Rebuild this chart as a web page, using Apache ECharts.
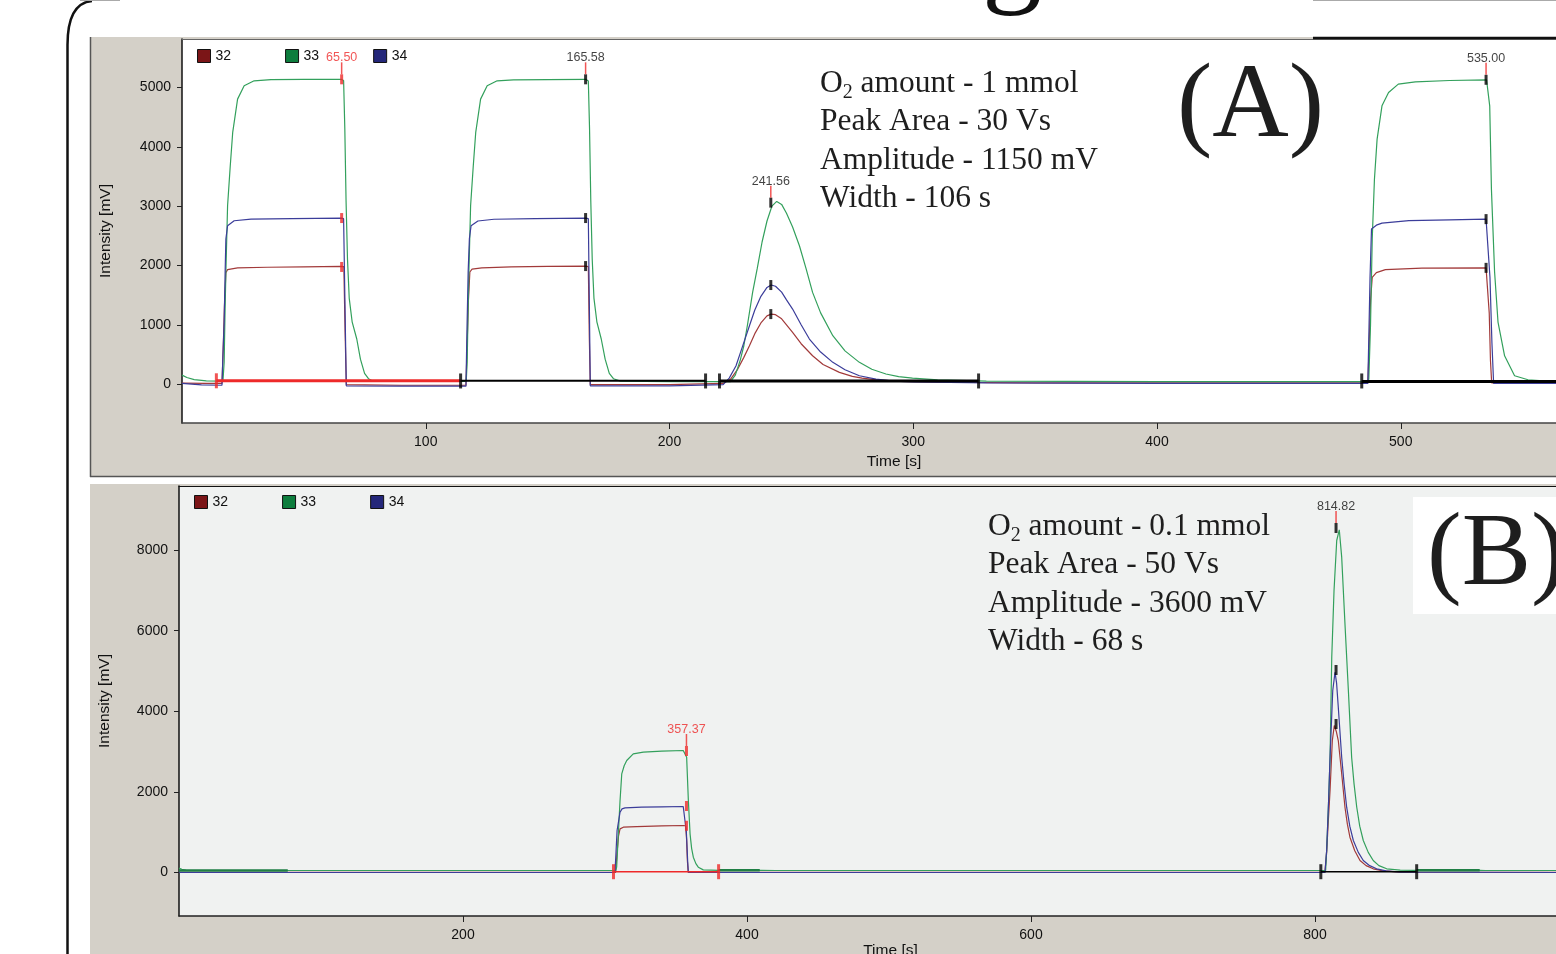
<!DOCTYPE html>
<html><head><meta charset="utf-8">
<script src="https://cdn.jsdelivr.net/npm/echarts@6/dist/echarts.min.js"></script>
<style>html,body{margin:0;padding:0;background:#fff;overflow:hidden}#c{width:1556px;height:954px}</style>
</head><body><div id="c"></div>
<script>
// ---------------- DATA ----------------
const seriesNames = ['32', '33', '34'];
const xTicksA = [100, 200, 300, 400, 500];
const yTicksA = [0, 1000, 2000, 3000, 4000, 5000];
const xTicksB = [200, 400, 600, 800];
const yTicksB = [0, 2000, 4000, 6000, 8000];

// Panel A (1 mmol) traces  [time s, intensity mV]
const a32 = [[0,15],[10,12],[16.4,10],[16.9,600],[17.4,1300],[18,1880],[18.7,1930],[22.8,1960],[35,1970],[50,1978],[65.3,1985],[66.4,1980],[66.9,900],[67.4,-10],[90,-20],[116.5,-20],[117,700],[117.5,1400],[118.1,1890],[119,1940],[123,1960],[135,1975],[150,1985],[165.5,1990],[166.7,1980],[167.1,800],[167.5,-10],[200,-10],[222,10],[225,80],[228,253],[230.5,450],[232.8,646],[235,850],[237.5,1030],[240,1150],[241.7,1180],[243.5,1170],[246,1100],[248,1000],[250.5,872],[254,680],[258.7,477],[263,330],[269.7,197],[275,130],[279,101],[285,70],[295,45],[310,30],[350,20],[486.5,20],[487,600],[487.6,1400],[488.3,1800],[490,1880],[493.7,1930],[508.7,1956],[535,1960],[535.8,1955],[536.3,1200],[536.8,400],[537.3,20],[566,20]];
const a33 = [[0,150],[2,110],[5,75],[10,55],[16.8,50],[17.3,371],[17.6,1100],[18,1884],[18.7,3007],[19.8,3681],[20.8,4244],[22.8,4806],[25.5,5030],[29.6,5115],[36.5,5135],[50,5138],[65.3,5140],[66.3,5120],[66.8,4300],[67.3,3100],[67.9,2100],[68.6,1450],[69.8,1050],[71.7,760],[73.2,420],[74.9,180],[76.5,90],[78,55],[90,45],[116.6,45],[117,371],[117.3,1100],[117.7,1884],[118.4,3007],[119.5,3681],[120.5,4244],[122.5,4806],[125.2,5030],[129.3,5115],[136,5130],[150,5135],[165.6,5140],[166.7,5110],[167.2,4300],[167.7,3100],[168.3,2100],[169,1450],[170.2,1050],[172,760],[173.6,420],[175.3,180],[177,90],[179.9,50],[200,40],[225,40],[227,150],[229,400],[230.5,646],[232,1000],[234.1,1546],[236,1950],[238,2400],[240,2750],[242,3000],[244,3081],[246,3030],[248,2880],[250.5,2650],[253.3,2332],[256,1950],[258.7,1546],[262,1200],[267,815],[272,560],[277.9,366],[283,250],[288.8,169],[294,125],[299.7,101],[310,70],[330,50],[400,40],[486.5,40],[486.9,84],[487.6,1000],[488.3,2445],[489.2,3450],[490.3,4131],[492.3,4693],[495,4918],[499,5059],[506,5098],[520,5120],[535.2,5132],[536,5110],[536.5,4693],[537.2,3288],[538.5,1889],[539.9,1046],[542.6,477],[546.7,140],[552.2,72],[560,50],[566,48]];
const a34 = [[0,10],[8,-15],[16.4,-20],[16.8,500],[17.3,1045],[17.7,1900],[18,2445],[18.7,2670],[21.4,2754],[28.3,2782],[45,2790],[65.3,2800],[66.3,2790],[66.8,1500],[67.4,-30],[90,-35],[116.5,-35],[116.9,900],[117.4,1900],[117.9,2450],[118.6,2670],[121.4,2750],[128,2780],[145,2790],[165.6,2800],[166.7,2790],[167.1,1400],[167.5,-30],[200,-30],[222,-10],[224.5,100],[227.3,309],[230,640],[232.8,983],[235,1250],[237.5,1480],[240,1630],[241.7,1670],[243.5,1650],[246,1550],[248,1420],[250.5,1265],[254,1000],[257.4,759],[262,540],[267,366],[272,240],[277.9,140],[284.7,84],[292,50],[300,35],[330,20],[400,10],[486.5,10],[486.9,800],[487.4,1800],[488,2614],[490,2680],[492.3,2715],[503.3,2755],[520,2770],[535,2782],[535.8,2760],[536.6,1800],[537.4,700],[538.1,10],[566,10]];

// Panel B (0.1 mmol) traces
const b32 = [[0,5],[307.5,5],[308.5,500],[309.5,900],[310.6,1082],[312.9,1124],[322.3,1141],[340,1155],[355.1,1166],[356.8,1160],[357.5,800],[358,300],[358.6,5],[807,5],[808.2,500],[809.4,1300],[810.6,2035],[812.2,3275],[813.6,3648],[815,3500],[816.4,3275],[818.8,2449],[821.1,1620],[822.8,1200],[824.6,876],[828,540],[831.7,298],[836,170],[841,92],[848,40],[860,10],[975,5]];
const b33 = [[0,110],[1,150],[2,80],[5,55],[100,50],[307.5,50],[308.2,132],[309.4,960],[310.6,1787],[311.8,2449],[313.5,2650],[315.3,2779],[319.9,2945],[327,2986],[340,3010],[355.1,3027],[356.5,3000],[357.5,2861],[358.7,1787],[359.9,960],[361,600],[362.2,380],[364,220],[365.7,132],[369.2,66],[380,55],[410,55],[420,50],[807.5,50],[808.2,546],[809.5,1700],[810.6,2861],[811.8,5343],[813.4,6998],[815.3,8238],[817.1,8504],[818.8,7824],[821.1,6171],[823.5,4516],[825.8,2861],[827.5,2200],[829.4,1620],[831.5,1150],[834,794],[837.5,500],[841,298],[845,170],[850.5,92],[860,60],[870,55],[916,55],[920,50],[975,50]];
const b34 = [[0,0],[307,0],[307.7,464],[308.5,1042],[310.6,1496],[312,1580],[314.1,1605],[325.8,1620],[340,1630],[355.1,1638],[356.5,1630],[357.3,1000],[358.2,300],[358.7,0],[807,0],[808.2,546],[809.5,1700],[810.6,2861],[812.5,4516],[814.1,4970],[815.2,4700],[816.4,4102],[818.8,2861],[820.5,2200],[822.3,1620],[824.5,1150],[827,794],[830.5,500],[834,298],[838.5,170],[843.4,92],[850,40],[860,10],[975,0]];

// integration baselines / boundaries
const aBaseRed = [[14.1,55],[114.3,55]];
const aBaseBlackThin = [[114.3,55],[214.8,55]];
const aBaseBlackThick = [[220.5,50],[326.8,50],[326.8,'-'],[484.0,45],[566,45]];
const aBoundRed = [14.1];
const aBoundBlack = [114.3, 214.8, 220.5, 326.8, 484.0];
const bBaseRed = [[306.0,20],[380.0,20]];
const bBaseBlack = [[804.1,20],[871.6,20]];
const bBaseGreen = [[0,50],[76.6,50],[76.6,'-'],[380,55],[409,55],[409,'-'],[871.6,55],[916,55]];
const bBoundRed = [306.0, 380.0];
const bBoundBlack = [804.1, 871.6];

// detected peaks
const peakTimesA = [65.50, 165.58, 241.56, 535.00];
const peakA32 = [1975, 1990, 1180, 1960];
const peakA33 = [5140, 5140, 3060, 5132];
const peakA34 = [2800, 2800, 1670, 2782];
const peakTimesB = [357.37, 814.82];
const peakB32 = [1160, 3685];
const peakB33 = [3015, 8548];
const peakB34 = [1650, 5025];
const selPeakA = 0, selPeakB = 0;

// ---------------- STYLE ----------------
const SANS = "'Liberation Sans', Arial, sans-serif";
const NARROW = "'Liberation Sans Narrow', 'Liberation Sans', Arial, sans-serif";
const SERIF = "'Liberation Serif', 'Times New Roman', serif";
const lineCol = {'32':'#a23a3a','33':'#33a05c','34':'#3b3d9a'};
const legCol = {'32':'#7b1517','33':'#0d7d3d','34':'#24277a'};
const RED = '#ee2a2a';

function trace(name, data, gi) {
  return {type:'line', name, data, xAxisIndex:gi, yAxisIndex:gi, showSymbol:false, symbol:'none',
    lineStyle:{color:lineCol[name], width:1.2}, itemStyle:{color:lineCol[name]}, animation:false, silent:true, z:2};
}
function base(data, gi, color, width) {
  return {type:'line', data, xAxisIndex:gi, yAxisIndex:gi, showSymbol:false, symbol:'none',
    lineStyle:{color, width}, animation:false, silent:true, z:3};
}
function bounds(ts, y, gi, color) {
  return {type:'scatter', data:ts.map(t=>[t,y]), xAxisIndex:gi, yAxisIndex:gi, symbol:'rect', symbolSize:[3,15],
    itemStyle:{color}, animation:false, silent:true, z:4};
}
function peakTicks(times, vals, sel, gi) {
  const d = [];
  times.forEach((t,i)=>vals.forEach(v=>d.push({value:[t,v[i]], itemStyle:{color: i===sel?RED:'#000'}})));
  return {type:'scatter', data:d, xAxisIndex:gi, yAxisIndex:gi, symbol:'rect', symbolSize:[3,10], animation:false, silent:true, z:5};
}
function peakLabels(times, tops, sel, gi) {
  return {type:'scatter', xAxisIndex:gi, yAxisIndex:gi, symbol:'rect', symbolSize:[1.5,12], symbolOffset:[0,-11],
    itemStyle:{color:RED}, animation:false, silent:true, z:5,
    data: times.map((t,i)=>({value:[t,tops[i]], label:{show:true, position:'top', distance:-2, formatter:t.toFixed(2),
      color: i===sel?RED:'#111', fontSize:12.5, fontFamily:SANS}}))};
}
function legend(left, top) {
  return {left, top, orient:'horizontal', icon:'rect', itemWidth:13, itemHeight:13, itemGap:54, selectedMode:false,
    textStyle:{fontSize:14, color:'#111', fontFamily:SANS},
    data: seriesNames.map(n=>({name:n, itemStyle:{color:legCol[n], borderColor:'#111', borderWidth:1}}))};
}
const plain = v => String(v);
function xAx(gi, max, ticks, font, margin, gap, pad, lineColor) {
  return {gridIndex:gi, type:'value', min:0, max, splitLine:{show:false},
    axisLine:{show:true, onZero:false, lineStyle:{color:lineColor, width:1.5}},
    axisTick:{show:true, customValues:ticks, length:6, lineStyle:{color:'#222', width:1}},
    axisLabel:{customValues:ticks, formatter:plain, fontSize:14, color:'#111', fontFamily:font, margin},
    name:'Time [s]', nameLocation:'middle', nameGap:gap,
    nameTextStyle:{fontSize:15.5, color:'#111', fontFamily:font, padding:[0,0,0,pad]}};
}
function topAx(gi, max, lineColor) {
  return {gridIndex:gi, type:'value', position:'top', min:0, max, splitLine:{show:false},
    axisLine:{show:true, onZero:false, lineStyle:{color:lineColor, width:1.2}},
    axisTick:{show:false}, axisLabel:{show:false}};
}
function yAx(gi, min, max, ticks, gap) {
  return {gridIndex:gi, type:'value', min, max, splitLine:{show:false},
    axisLine:{show:true, onZero:false, lineStyle:{color:'#111', width:1.5}},
    axisTick:{show:true, customValues:ticks, length:5, lineStyle:{color:'#222', width:1}},
    axisLabel:{customValues:ticks, formatter:plain, fontSize:14, color:'#111', fontFamily:SANS, margin:11},
    name:'Intensity [mV]', nameLocation:'middle', nameGap:gap,
    nameTextStyle:{fontSize:15.5, color:'#111', fontFamily:SANS}};
}
const richT = {
  a:{fontSize:31.5, fontFamily:SERIF, lineHeight:38.5, fill:'#1e1e1e', color:'#1e1e1e'},
  s:{fontSize:20, fontFamily:SERIF, lineHeight:20, verticalAlign:'bottom', fill:'#1e1e1e', color:'#1e1e1e'}
};
const textA = '{a|O}{s|2}{a| amount - 1 mmol}\n{a|Peak Area - 30 Vs}\n{a|Amplitude - 1150 mV}\n{a|Width - 106 s}';
const textB = '{a|O}{s|2}{a| amount - 0.1 mmol}\n{a|Peak Area - 50 Vs}\n{a|Amplitude - 3600 mV}\n{a|Width - 68 s}';

const maxA = 1374 / 2.4375, maxB = 1377 / 1.42;
const option = {
  animation:false,
  backgroundColor:'#ffffff',
  grid:[
    {left:182, top:39, width:1374, height:384, show:true, backgroundColor:'#ffffff', borderWidth:0, outerBoundsMode:'none', containLabel:false},
    {left:179, top:486, width:1377, height:430, show:true, backgroundColor:'#f0f2f1', borderWidth:0, outerBoundsMode:'none', containLabel:false}
  ],
  xAxis:[ xAx(0, maxA, xTicksA, SANS, 12, 31, 50, '#444'), xAx(1, maxB, xTicksB, NARROW, 12, 27, 46, '#222'),
          topAx(0, maxA, '#666'), topAx(1, maxB, '#111') ],
  yAxis:[ yAx(0, -657, 5820, yTicksA, 68), yAx(1, -1079, 9590, yTicksB, 66) ],
  legend:[ legend(192, 44), legend(189, 490) ],
  series:[
    trace('32', a32, 0), trace('33', a33, 0), trace('34', a34, 0),
    base(aBaseRed, 0, RED, 3), base(aBaseBlackThin, 0, '#000', 2), base(aBaseBlackThick, 0, '#000', 3),
    bounds(aBoundRed, 55, 0, RED), bounds(aBoundBlack, 52, 0, '#000'),
    peakTicks(peakTimesA, [peakA33, peakA34, peakA32], selPeakA, 0),
    peakLabels(peakTimesA, peakA33, selPeakA, 0),
    trace('32', b32, 1), trace('33', b33, 1), trace('34', b34, 1),
    base(bBaseGreen, 1, '#1f7f45', 2.5), base(bBaseRed, 1, RED, 1.5), base(bBaseBlack, 1, '#000', 1.5),
    bounds(bBoundRed, 20, 1, RED), bounds(bBoundBlack, 20, 1, '#000'),
    peakTicks(peakTimesB, [peakB33, peakB34, peakB32], selPeakB, 1),
    peakLabels(peakTimesB, peakB33, selPeakB, 1)
  ],
  graphic:[
    {type:'rect', shape:{x:90, y:37, width:1466, height:440}, style:{fill:'#d4d0c8'}, z:-10},
    {type:'line', shape:{x1:90.5, y1:37, x2:90.5, y2:477}, style:{stroke:'#555', lineWidth:1.5}, z:-9},
    {type:'line', shape:{x1:90, y1:476.5, x2:1556, y2:476.5}, style:{stroke:'#555', lineWidth:1.5}, z:-9},
    {type:'rect', shape:{x:90, y:484, width:1466, height:470}, style:{fill:'#d4d0c8'}, z:-10},
    {type:'line', shape:{x1:67.5, y1:954, x2:67.5, y2:45}, style:{stroke:'#111', lineWidth:2.5}, z:-8},
    {type:'bezierCurve', shape:{x1:67.5, y1:45, x2:92, y2:1, cpx1:67.5, cpy1:3}, style:{stroke:'#111', lineWidth:2.5, fill:null}, z:-8},
    {type:'line', shape:{x1:80, y1:0.5, x2:120, y2:0.5}, style:{stroke:'#aaa', lineWidth:1}, z:-8},
    {type:'line', shape:{x1:1313, y1:0.5, x2:1556, y2:0.5}, style:{stroke:'#aaa', lineWidth:1}, z:-8},
    {type:'line', shape:{x1:1313, y1:38, x2:1556, y2:38}, style:{stroke:'#111', lineWidth:2.5}, z:50},
    {type:'text', x:1012, y:18, style:{text:'g', font:'120px '+SERIF, fill:'#111', textAlign:'center', textVerticalAlign:'bottom'}, z:50},
    {type:'text', x:820, y:64, style:{text:textA, rich:richT, fill:'#1e1e1e', textAlign:'left', textVerticalAlign:'top'}, z:60},
    {type:'text', x:1177, y:108, style:{text:'(A)', font:'106px '+SERIF, fill:'#1e1e1e', textAlign:'left', textVerticalAlign:'middle'}, z:60},
    {type:'text', x:988, y:507, style:{text:textB, rich:richT, fill:'#1e1e1e', textAlign:'left', textVerticalAlign:'top'}, z:60},
    {type:'rect', shape:{x:1413, y:497, width:143, height:117}, style:{fill:'#ffffff'}, z:55},
    {type:'text', x:1427, y:557, style:{text:'(B)', font:'104px '+SERIF, fill:'#1e1e1e', textAlign:'left', textVerticalAlign:'middle'}, z:60}
  ]
};
const chart = echarts.init(document.getElementById('c'));
chart.setOption(option);
</script></body></html>
